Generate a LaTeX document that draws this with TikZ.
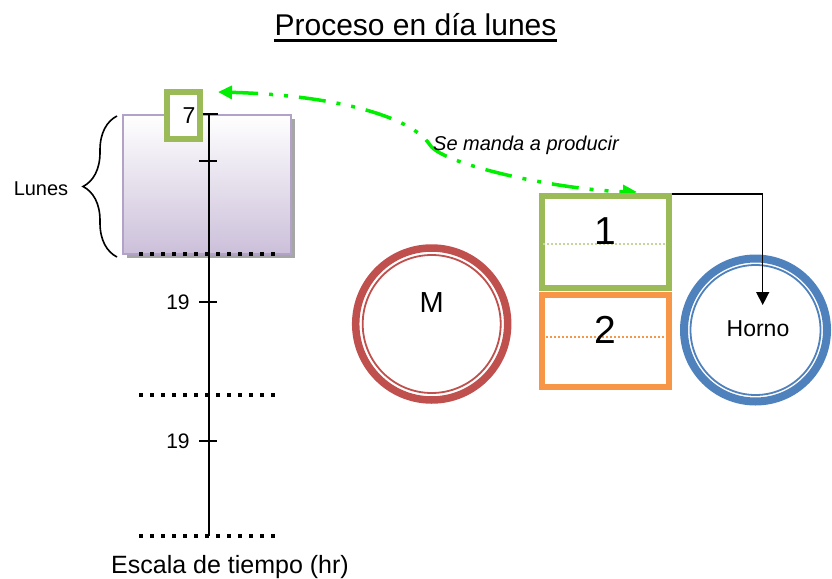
\documentclass[tikz,border=0pt]{standalone}
\usepackage{fontspec}
\setmainfont{Liberation Sans}
\usepackage{xcolor}
\usetikzlibrary{arrows.meta,positioning,shadows,decorations.pathreplacing}

\definecolor{olivebox}{HTML}{9BBB59}
\definecolor{olivedot}{HTML}{C3D69B}
\definecolor{orangebox}{HTML}{F79646}
\definecolor{redring}{HTML}{C0504D}
\definecolor{bluering}{HTML}{4F81BD}
\definecolor{lavfill}{HTML}{CCC0DA}
\definecolor{lavline}{HTML}{B3A2C7}
\definecolor{sendgreen}{HTML}{00EE00}

\begin{document}
\begin{tikzpicture}[x=1pt, y=-1pt,
    daybox/.style={rectangle, draw=lavline, line width=2pt, top color=white, bottom color=lavfill,
                minimum width=168pt, minimum height=139pt,
                drop shadow={shadow xshift=4pt, shadow yshift=-4pt, fill=gray!70, opacity=1}},
    markbox/.style={rectangle, draw=olivebox, line width=6pt, fill=white,
                minimum width=33pt, minimum height=47pt},
    wagon/.style={rectangle, draw=#1, line width=6pt, fill=white,
                minimum width=127pt, minimum height=92pt},
    ring/.style={circle, draw=#1, line width=8pt, fill=white, inner sep=0pt},
    axis/.style={line width=1.6pt},
    tickmark/.style={line width=1.4pt},
    dotrule/.style={line width=4pt, dash pattern=on 4pt off 7pt},
    midrule/.style={line width=2pt, dash pattern=on 2pt off 2pt},
    elbow/.style={-{Triangle[length=13pt, width=13pt]}, line width=1.4pt},
    send/.style={{Triangle[length=14pt, width=13pt]}-{Triangle[length=14pt, width=13pt]},
                line width=3.5pt, sendgreen,
                dash pattern=on 27pt off 11pt on 4pt off 11pt on 4pt off 11pt},
    lbl/.style={font=\fontsize{21}{25}\selectfont, inner sep=0pt}
]
    \useasboundingbox (0,0) rectangle (832,578);

    % Title
    \node[inner sep=0pt, anchor=base, font=\fontsize{30}{36}\selectfont] (title) at (415.5,36) {Proceso en día lunes};
    \draw[line width=2.2pt] ([yshift=-4.5pt]title.base west) -- ([yshift=-4.5pt]title.base east);

    % Day block
    \node[daybox] (lunesBox) at (206.5,184) {};
    \draw[decorate, decoration={brace, amplitude=34pt}, line width=1.6pt] (117,257) -- (117,116);
    \node[font=\fontsize{20}{24}\selectfont] (lunes) at (41,189) {Lunes};

    % Time scale
    \foreach \ry in {254,395,536}
        \draw[dotrule] (139,\ry) -- (277,\ry);
    \coordinate (axisTop) at (209,114);
    \coordinate (axisEnd) at (209,536);
    \draw[axis] (axisTop) -- (axisEnd);
    \draw[tickmark] (203,114) -- (218,114);
    \foreach \ty in {161,302,441}
        \draw[tickmark] (199,\ty) -- (217,\ty);

    \node[markbox] (sieteBox) at (183,115) {};
    \node[lbl, font=\fontsize{23}{27}\selectfont] (siete) at (189,116) {7};
    \node[lbl] (diecinueveA) at (178,302) {19};
    \node[lbl] (diecinueveB) at (178,441) {19};
    \node[anchor=base, inner sep=0pt, font=\fontsize{25}{30}\selectfont] (escala) at (230,573) {Escala de tiempo (hr)};

    % Send arrow (drawn first, the wagon edge covers its tip a little)
    \coordinate (sendStart) at (218,92);
    \coordinate (sendEnd) at (637,192);
    \draw[send] (sendStart) .. controls (330,95) and (410,115) .. (430,145)
        .. controls (443,165) and (560,190) .. (sendEnd);
    \node[anchor=base west, inner sep=0pt, font=\itshape\fontsize{20}{24}\selectfont] (sendTxt) at (433,150) {Se manda a producir};

    % Wagons
    \node[wagon=olivebox] (wagonA) at (605.5,242) {};
    \node[wagon=orangebox, below=1pt of wagonA] (wagonB) {};
    \draw[midrule, olivedot] (543,244) -- (667,244);
    \draw[midrule, orangebox] (546,337) -- (664,337);
    \node[lbl, font=\fontsize{39}{44}\selectfont] (uno) at ([yshift=11pt]wagonA.center) {1};
    \node[lbl, font=\fontsize{39}{44}\selectfont] (dos) at ([yshift=11pt]wagonB.center) {2};

    % Mold and oven
    \node[ring=redring, minimum size=152pt, line width=7.5pt] (molde) at (431.7,324) {};
    \draw[redring, line width=1.8pt] (molde.center) circle (69);
    \node[lbl, font=\fontsize{29}{34}\selectfont] (moldeTxt) at ([yshift=21.5pt]molde.center) {M};

    \node[ring=bluering, minimum size=143pt] (horno) at (755.5,330) {};
    \draw[bluering, line width=1.8pt] (horno.center) circle (65);
    \node[lbl, font=\fontsize{23}{27}\selectfont] (hornoTxt) at (758,329) {Horno};

    % Oven feed
    \coordinate (hornoIn) at (762.7,305);
    \draw[elbow] ([yshift=-1pt]wagonA.north east) -| (hornoIn);
\end{tikzpicture}
\end{document}
